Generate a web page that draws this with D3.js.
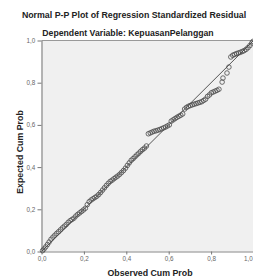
<!DOCTYPE html>
<html><head><meta charset="utf-8">
<script src="https://cdn.jsdelivr.net/npm/d3@7"></script>
<style>body{margin:0;background:#fff;overflow:hidden}svg{display:block}</style>
</head><body>
<script>
const title = "Normal P-P Plot of Regression Standardized Residual";
const subtitle = "Dependent Variable: KepuasanPelanggan";
const xLabel = "Observed Cum Prob";
const yLabel = "Expected Cum Prob";
const tickValues = [0, 0.2, 0.4, 0.6, 0.8, 1.0];
const tickLabels = ["0,0", "0,2", "0,4", "0,6", "0,8", "1,0"];
const observed = [0.005,0.012,0.02,0.028,0.036,0.045,0.054,0.063,0.072,0.081,0.09,0.099,0.108,0.117,
 0.126,0.135,0.144,0.153,0.162,0.171,0.18,0.189,0.198,0.207,
 0.216,0.225,0.234,0.243,0.252,0.261,0.27,0.279,0.288,0.297,0.306,0.315,0.324,0.333,0.342,0.351,
 0.36,0.369,0.378,0.387,0.396,0.405,
 0.414,0.423,0.432,0.441,0.45,0.459,0.468,0.477,0.486,0.495,
 0.504,0.513,0.522,0.531,0.54,0.549,0.558,0.567,0.576,0.585,0.594,0.603,
 0.612,0.621,0.63,0.639,0.648,0.657,0.666,
 0.675,0.684,0.693,0.702,0.711,0.72,0.729,0.738,0.747,0.756,
 0.765,0.774,0.783,0.792,0.801,0.81,0.819,0.828,0.837,
 0.852,0.856,0.875,0.884,
 0.893,0.902,0.911,0.92,0.929,0.938,0.947,0.956,0.965,0.974,0.983,0.992,0.998];
const expected = [0.004,0.012,0.022,0.033,0.045,0.058,0.068,0.077,0.086,0.094,0.103,0.112,0.12,0.128,
 0.138,0.146,0.152,0.158,0.168,0.176,0.183,0.19,0.197,0.205,
 0.222,0.236,0.244,0.25,0.256,0.262,0.27,0.28,0.291,0.302,0.313,0.323,0.332,0.338,0.345,0.352,
 0.358,0.366,0.375,0.384,0.395,0.408,
 0.42,0.432,0.44,0.449,0.458,0.466,0.475,0.483,0.49,0.5,
 0.558,0.562,0.566,0.57,0.572,0.575,0.578,0.582,0.586,0.59,0.595,0.6,
 0.618,0.624,0.63,0.636,0.641,0.646,0.652,
 0.675,0.683,0.688,0.692,0.695,0.698,0.701,0.704,0.707,0.71,
 0.716,0.722,0.735,0.742,0.752,0.756,0.76,0.764,0.769,
 0.803,0.822,0.846,0.874,
 0.922,0.93,0.934,0.938,0.941,0.944,0.948,0.952,0.958,0.966,0.976,0.988,0.996];

const W = 253, H = 279;
const svg = d3.select("body").append("svg").attr("width", W).attr("height", H);
const x0 = 41.5, x1 = 253.5, yTop = 40.5, yBot = 251.5;
const x = d3.scaleLinear().domain([0, 1]).range([x0, x1]);
const y = d3.scaleLinear().domain([0, 1]).range([yBot, yTop]);
const font = "Liberation Sans, Arial, sans-serif";

svg.append("text").attr("x", 134).attr("y", 18).attr("text-anchor", "middle")
  .attr("font-family", font).attr("font-weight", "bold").attr("font-size", 8.8).attr("fill", "#222").text(title);
svg.append("text").attr("x", 128).attr("y", 35.5).attr("text-anchor", "middle")
  .attr("font-family", font).attr("font-weight", "bold").attr("font-size", 8.7).attr("fill", "#222").text(subtitle);

svg.append("rect").attr("x", x0).attr("y", yTop).attr("width", x1 - x0).attr("height", yBot - yTop).attr("fill", "#f0f0f0");
svg.append("line").attr("x1", x0).attr("x2", x1).attr("y1", yTop).attr("y2", yTop).attr("stroke", "#999");

const gx = svg.append("g").attr("transform", `translate(0,${yBot})`)
  .call(d3.axisBottom(x).tickValues(tickValues).tickFormat((d, i) => tickLabels[i]).tickSize(3).tickSizeOuter(0));
const gy = svg.append("g").attr("transform", `translate(${x0},0)`)
  .call(d3.axisLeft(y).tickValues(tickValues).tickFormat((d, i) => tickLabels[i]).tickSize(4).tickSizeOuter(0));
[gx, gy].forEach(g => {
  g.select(".domain").attr("stroke", "#888").attr("stroke-width", 1.2);
  g.selectAll(".tick line").attr("stroke", "#777");
  g.selectAll(".tick text").attr("font-family", font).attr("font-size", 6.3).attr("fill", "#666");
});
gx.selectAll(".tick text").attr("dy", "0.55em");
gx.selectAll(".tick text").filter((d, i) => i === tickValues.length - 1).attr("text-anchor", "end").attr("dx", "-0.2em");
gy.selectAll(".tick text").attr("dx", "0.1em");

svg.append("line").attr("x1", x(0)).attr("y1", y(0)).attr("x2", x(1)).attr("y2", y(1))
  .attr("stroke", "#555").attr("stroke-width", 1);

svg.append("g").selectAll("circle").data(observed.map((v, i) => [v, expected[i]])).join("circle")
  .attr("cx", d => x(d[0])).attr("cy", d => y(d[1])).attr("r", 2.3)
  .attr("fill", "none").attr("stroke", "#4a4a4a").attr("stroke-width", 0.8);

svg.append("text").attr("x", 150).attr("y", 276).attr("text-anchor", "middle")
  .attr("font-family", font).attr("font-weight", "bold").attr("font-size", 8.8).attr("fill", "#222").text(xLabel);
svg.append("text").attr("transform", "translate(23,152) rotate(-90)").attr("text-anchor", "middle")
  .attr("font-family", font).attr("font-weight", "bold").attr("font-size", 8.8).attr("fill", "#222").text(yLabel);
</script>
</body></html>
